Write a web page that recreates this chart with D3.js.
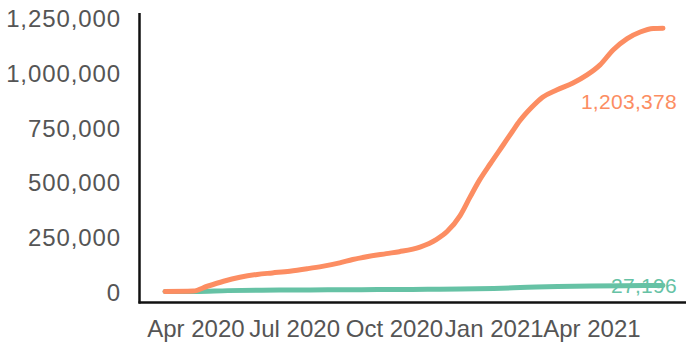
<!DOCTYPE html>
<html>
<head>
<meta charset="utf-8">
<script src="https://cdn.jsdelivr.net/npm/d3@7"></script>
<style>
  html, body { margin: 0; padding: 0; background: #fff; }
  svg { display: block; font-family: "Liberation Sans", Arial, Helvetica, sans-serif; }
</style>
</head>
<body>
<svg id="chart" width="686" height="345"></svg>
<script>
// ---- data ----
const casesDates = ["2020-03-04","2020-03-30","2020-04-12","2020-04-27","2020-05-12","2020-05-28","2020-06-11","2020-06-27","2020-07-13","2020-07-27","2020-08-12","2020-08-24","2020-09-24","2020-10-06","2020-10-25","2020-11-09","2020-11-19","2020-12-01","2020-12-10","2020-12-19","2020-12-29","2021-01-10","2021-01-18","2021-01-25","2021-02-05","2021-02-15","2021-02-28","2021-03-15","2021-03-28","2021-04-09","2021-04-21","2021-05-04","2021-05-16","2021-05-28","2021-06-06"];
const casesValues = [0,2000,24000,47000,65000,78000,85000,93000,104000,115000,131000,146000,173000,182000,203000,237000,274000,347000,430000,510000,585000,672000,730000,780000,842000,888000,921000,953000,990000,1036000,1104000,1156000,1186000,1202000,1203378];

const deathsDates = ["2020-03-04","2020-04-01","2020-05-01","2020-06-01","2020-07-01","2020-08-01","2020-09-01","2020-10-01","2020-11-01","2020-12-01","2021-01-01","2021-02-01","2021-03-01","2021-04-01","2021-05-01","2021-06-06"];
const deathsValues = [0,500,4000,6000,7000,7800,8500,9200,10000,11500,14000,19000,23000,25500,26800,27196];

const yTickValues = [0,250000,500000,750000,1000000,1250000];
const xTickDates = ["2020-04-01","2020-07-01","2020-10-01","2021-01-01","2021-04-01"];

const seriesColors = ["#fc8d62", "#66c2a5"];

// ---- chart ----
const parse = d3.timeParse("%Y-%m-%d");
const svg = d3.select("#chart");

const x = d3.scaleTime()
  .domain([parse(casesDates[0]), parse(casesDates[casesDates.length - 1])])
  .range([165, 663]);
const y = d3.scaleLinear()
  .domain([0, 1250000])
  .range([291.5, 18]);

// y axis labels
const yAxis = d3.axisLeft(y).tickValues(yTickValues).tickSize(0).tickPadding(18).tickFormat(d3.format(","));
const gy = svg.append("g").attr("transform", "translate(139,0)").call(yAxis);
gy.select(".domain").remove();
gy.selectAll("text")
  .attr("fill", "#555")
  .style("font-size", "24px")
  .style("letter-spacing", "0.9px")
  .attr("dy", "0.36em");

// x axis labels
const fmt = d3.timeFormat("%b %Y");
const xAxis = d3.axisBottom(x).tickValues(xTickDates.map(parse)).tickSize(0).tickFormat(fmt);
const gx = svg.append("g").attr("transform", "translate(0,302)").call(xAxis);
gx.select(".domain").remove();
gx.selectAll("text")
  .attr("fill", "#555")
  .style("font-size", "24px")
  .attr("y", 35)
  .attr("dy", 0);

// axis lines
svg.append("line").attr("x1", 139.5).attr("x2", 139.5).attr("y1", 13).attr("y2", 303.5)
  .attr("stroke", "#111").attr("stroke-width", 2.5);
svg.append("line").attr("x1", 138.5).attr("x2", 686).attr("y1", 302.5).attr("y2", 302.5)
  .attr("stroke", "#111").attr("stroke-width", 2.5);

const line = d3.line()
  .x(d => x(d.date))
  .y(d => y(d.value))
  .curve(d3.curveMonotoneX);

const deaths = deathsDates.map((d, i) => ({date: parse(d), value: deathsValues[i]}));
const cases = casesDates.map((d, i) => ({date: parse(d), value: casesValues[i]}));

svg.append("path").datum(deaths).attr("d", line)
  .attr("fill", "none").attr("stroke", seriesColors[1]).attr("stroke-width", 5)
  .attr("stroke-linecap", "round").attr("stroke-linejoin", "round");
svg.append("path").datum(cases).attr("d", line)
  .attr("fill", "none").attr("stroke", seriesColors[0]).attr("stroke-width", 5)
  .attr("stroke-linecap", "round").attr("stroke-linejoin", "round");

// end labels
const numFmt = d3.format(",");
svg.append("text")
  .attr("x", 677).attr("y", y(casesValues[casesValues.length - 1]) + 81)
  .attr("text-anchor", "end").attr("fill", seriesColors[0])
  .style("font-size", "21px").style("letter-spacing", "0.3px")
  .text(numFmt(casesValues[casesValues.length - 1]));
svg.append("text")
  .attr("x", 677).attr("y", y(deathsValues[deathsValues.length - 1]) + 7.5)
  .attr("text-anchor", "end").attr("fill", seriesColors[1])
  .style("font-size", "21px").style("letter-spacing", "0.3px")
  .text(numFmt(deathsValues[deathsValues.length - 1]));
</script>
</body>
</html>
